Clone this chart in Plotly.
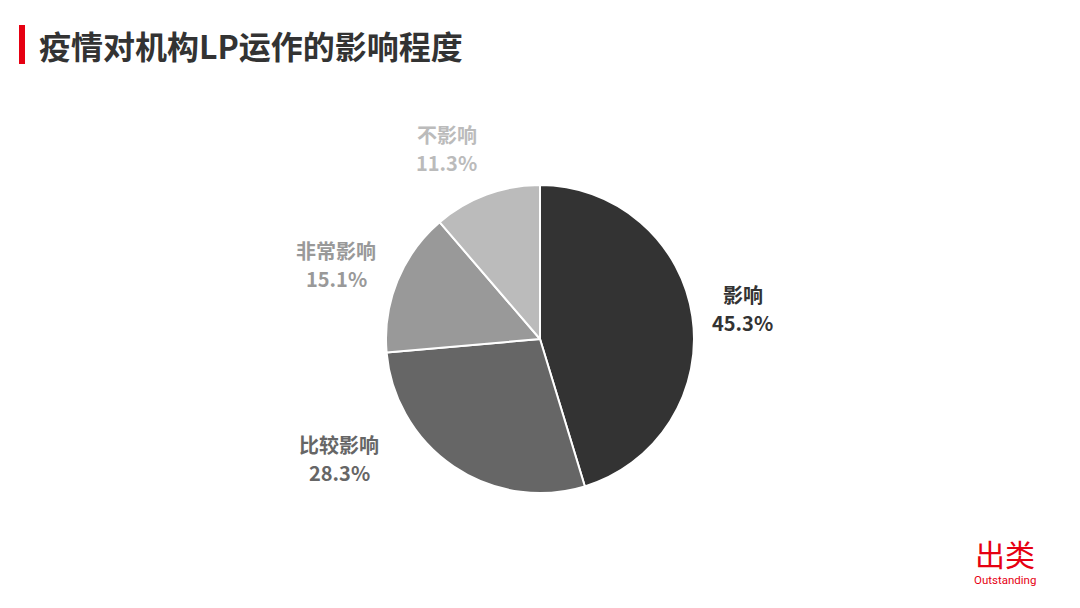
import math
import plotly.graph_objects as go

categories = ["影响", "比较影响", "非常影响", "不影响"]
values = [45.3, 28.3, 15.1, 11.3]
colors = ["#333333", "#666666", "#999999", "#bbbbbb"]
title_text = "疫情对机构LP运作的影响程度"

W, H = 1080, 608
OFF = 8  # page body margin in the browser
cx, cy, r = 540, 339, 154
# per-label pixel nudges (style only)
label_shift = [(0, 0), (-86, -50), (-14, 3), (-22, 2)]

FONT = "Noto Sans CJK SC"


def X(p):
    return (p - OFF) / W


def Y(p):
    return 1 - (p - OFF) / H


fig = go.Figure()
fig.add_trace(go.Pie(
    labels=categories, values=values, sort=False, direction="clockwise",
    rotation=0, textinfo="none", hoverinfo="label+percent",
    marker=dict(colors=colors, line=dict(color="white", width=2)),
    domain=dict(x=[X(cx - r), X(cx + r)], y=[Y(cy + r), Y(cy - r)]),
    showlegend=False,
))

total = sum(values)
cum = 0
annotations = []
for i, (cat, v) in enumerate(zip(categories, values)):
    mid = (cum + v / 2) / total * 2 * math.pi
    cum += v
    R = r * 1.33
    px = cx + math.sin(mid) * R + label_shift[i][0]
    py = cy - math.cos(mid) * R + label_shift[i][1]
    for txt, dy in ((cat, -14), (f"{v / total * 100:.1f}%", 14)):
        annotations.append(dict(
            x=X(px), y=Y(py + dy), xref="paper", yref="paper",
            text=f"<b>{txt}</b>", showarrow=False,
            xanchor="center", yanchor="middle", align="center",
            borderpad=0,
            font=dict(family=FONT, size=20, color=colors[i]),
        ))

annotations.append(dict(
    x=X(37), y=Y(45), xref="paper", yref="paper", xanchor="left", yanchor="middle",
    text=f"<b>{title_text}</b>", showarrow=False,
    font=dict(family=FONT, size=32, color="#333333"),
))
annotations.append(dict(
    x=X(1005), y=Y(553), xref="paper", yref="paper", xanchor="center", yanchor="middle",
    text="出类", showarrow=False, font=dict(family=FONT, size=30, color="#e60012"),
))
annotations.append(dict(
    x=X(1005), y=Y(580), xref="paper", yref="paper", xanchor="center", yanchor="middle",
    text="Outstanding", showarrow=False, font=dict(family="Roboto", size=11.5, color="#e60012"),
))

fig.update_layout(
    width=W, height=H, margin=dict(l=0, r=0, t=0, b=0),
    paper_bgcolor="white", plot_bgcolor="white",
    annotations=annotations,
    shapes=[dict(type="rect", xref="paper", yref="paper",
                 x0=X(19), x1=X(25), y0=Y(64), y1=Y(25),
                 fillcolor="#e60012", line=dict(width=0))],
)

fig.write_html("out.html")
